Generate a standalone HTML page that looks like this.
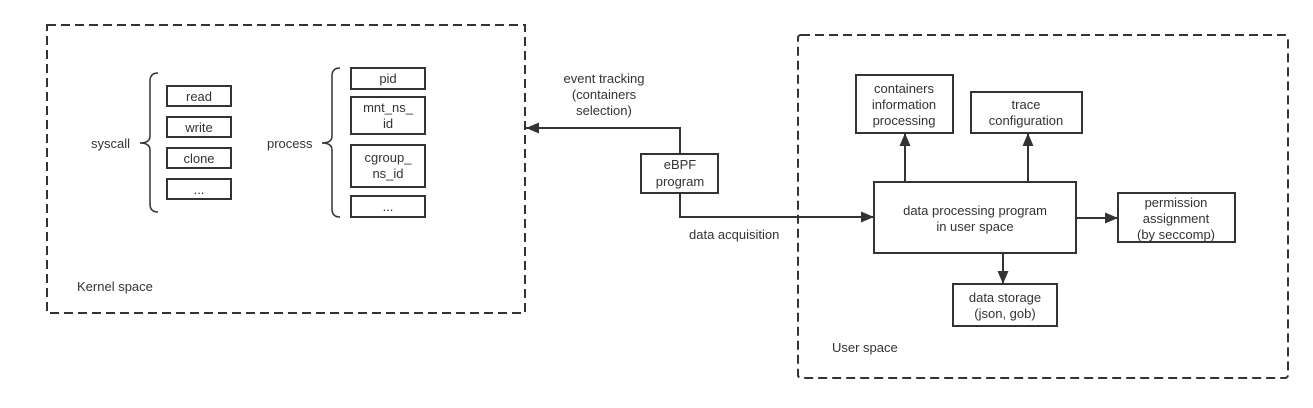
<!DOCTYPE html>
<html><head><meta charset="utf-8"><style>
html,body{margin:0;padding:0;background:#fff;}
svg text{font-family:"Liberation Sans",sans-serif;font-size:13px;fill:#333;}
</style></head><body>
<svg width="1313" height="403" viewBox="0 0 1313 403" xmlns="http://www.w3.org/2000/svg">
<defs><marker id="a" markerWidth="14" markerHeight="12" refX="13" refY="6" orient="auto" markerUnits="userSpaceOnUse"><path d="M0,0.5 L13,6 L0,11.5 z" fill="#333"/></marker></defs>
<g fill="none" stroke="#333" stroke-width="2" stroke-dasharray="9,5">
<rect x="47" y="25" width="478" height="288"/>
<rect x="798" y="35" width="490" height="343" rx="3"/>
</g>
<g fill="#fff" stroke="#333" stroke-width="2">
<rect x="167" y="86" width="64" height="20"/>
<rect x="167" y="117" width="64" height="20"/>
<rect x="167" y="148" width="64" height="20"/>
<rect x="167" y="179" width="64" height="20"/>
<rect x="351" y="68" width="74" height="21"/>
<rect x="351" y="97" width="74" height="37"/>
<rect x="351" y="145" width="74" height="42"/>
<rect x="351" y="196" width="74" height="21"/>
<rect x="641" y="154" width="77" height="39"/>
<rect x="874" y="182" width="202" height="71"/>
<rect x="856" y="75" width="97" height="58"/>
<rect x="971" y="92" width="111" height="41"/>
<rect x="1118" y="193" width="117" height="49"/>
<rect x="953" y="284" width="104" height="42"/>
</g>
<g fill="none" stroke="#333" stroke-width="1.5">
<path d="M158,73 Q150,73 150,81 L150,136 Q150,143 140,143 Q150,143 150,150 L150,204 Q150,212 158,212"/>
<path d="M340,68 Q332,68 332,76 L332,136 Q332,143 322,143 Q332,143 332,150 L332,209 Q332,217 340,217"/>
</g>
<g fill="none" stroke="#333" stroke-width="2">
<path d="M680,154 L680,128 L526,128" marker-end="url(#a)"/>
<path d="M680,193 L680,217 L874,217" marker-end="url(#a)"/>
<path d="M905,182 L905,133" marker-end="url(#a)"/>
<path d="M1028,182 L1028,133" marker-end="url(#a)"/>
<path d="M1076,218 L1118,218" marker-end="url(#a)"/>
<path d="M1003,253 L1003,284" marker-end="url(#a)"/>
</g>
<g text-anchor="middle">
<text x="199" y="101">read</text>
<text x="199" y="132">write</text>
<text x="199" y="163">clone</text>
<text x="199" y="194">...</text>
<text x="388" y="83">pid</text>
<text x="388" y="112">mnt_ns_</text>
<text x="388" y="128">id</text>
<text x="388" y="162">cgroup_</text>
<text x="388" y="178">ns_id</text>
<text x="388" y="211">...</text>
<text x="604" y="83">event tracking</text>
<text x="604" y="99">(containers</text>
<text x="604" y="115">selection)</text>
<text x="680" y="169">eBPF</text>
<text x="680" y="186">program</text>
<text x="975" y="215">data processing program</text>
<text x="975" y="231">in user space</text>
<text x="904" y="93">containers</text>
<text x="904" y="109">information</text>
<text x="904" y="125">processing</text>
<text x="1026" y="109">trace</text>
<text x="1026" y="125">configuration</text>
<text x="1176" y="207">permission</text>
<text x="1176" y="223">assignment</text>
<text x="1176" y="239">(by seccomp)</text>
<text x="1005" y="302">data storage</text>
<text x="1005" y="318">(json, gob)</text>
</g>
<text x="91" y="148">syscall</text>
<text x="267" y="148">process</text>
<text x="689" y="239">data acquisition</text>
<text x="77" y="291">Kernel space</text>
<text x="832" y="352">User space</text>
</svg>
</body></html>
